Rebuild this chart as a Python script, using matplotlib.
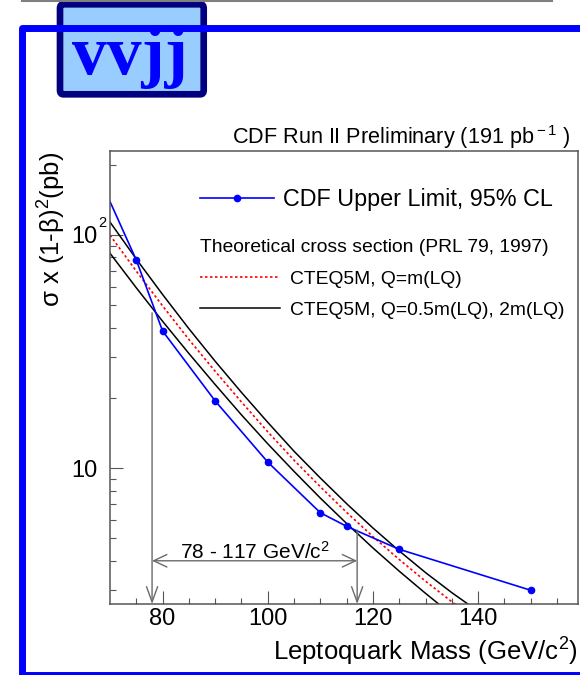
import numpy as np
import matplotlib
matplotlib.use('Agg')
import matplotlib.pyplot as plt
from matplotlib.lines import Line2D
from matplotlib.patches import FancyBboxPatch

plt.rcParams['font.family'] = ['Liberation Sans', 'DejaVu Sans']
plt.rcParams['mathtext.fontset'] = 'custom'
plt.rcParams['mathtext.rm'] = 'Liberation Sans'
plt.rcParams['mathtext.it'] = 'Liberation Sans:italic'
plt.rcParams['mathtext.bf'] = 'Liberation Sans:bold'

# --- data ---
# CDF 95% CL upper limit
lim_mass = [70, 75, 80, 90, 100, 110, 115, 125, 150]
lim_xsec = [139, 78, 38.7, 19.4, 10.6, 6.43, 5.62, 4.48, 2.99]

# theory (CTEQ5M), central and scale variations
th_mass = [70, 75, 80, 85, 90, 95, 100, 105, 110, 115, 120, 125, 130, 135, 140]
th_central = [99.7, 69.9, 49.6, 35.6, 26.0, 19.2, 14.3, 10.8, 8.31, 6.45, 5.08, 4.05, 3.27, 2.67, 2.21]
th_high = [113.5, 78.8, 55.5, 39.6, 28.7, 21.1, 15.7, 11.8, 9.06, 7.03, 5.53, 4.41, 3.56, 2.92, 2.43]
th_low = [83.4, 59.3, 42.6, 31.0, 22.8, 16.9, 12.7, 9.67, 7.43, 5.78, 4.54, 3.61, 2.90, 2.35, 1.93]

# excluded range
excl_mass = [78, 117]
excl_top = [46.3, 5.42]
arrow_y = 4.0

W, H = 580, 675
fig = plt.figure(figsize=(W / 100, H / 100), dpi=100)

def fx(px):
    return px / W

def fy(py):
    return 1 - py / H

ax = fig.add_axes([fx(110), fy(604), fx(578) - fx(110), fy(151) - fy(604)])

# theory curves
ax.plot(th_mass, th_high, color='black', lw=1.1)
ax.plot(th_mass, th_low, color='black', lw=1.1)
ax.plot(th_mass, th_central, color='#ff0000', lw=1.2, linestyle=(0, (1.5, 1.5)))
# limit
ax.plot(lim_mass, lim_xsec, color='#0000ff', lw=1.2, marker='o', ms=4.5,
        markevery=list(range(1, len(lim_mass))))

# exclusion arrows
gray = '#6a6a6a'
for m, top in zip(excl_mass, excl_top):
    ax.annotate('', xy=(m, 0), xycoords=('data', 'axes fraction'),
                xytext=(m, top), textcoords='data',
                arrowprops=dict(arrowstyle='->,head_length=1.1,head_width=0.4',
                                color=gray, lw=1.0, shrinkA=0, shrinkB=0))
ax.annotate('', xy=(excl_mass[0], arrow_y), xytext=(excl_mass[1], arrow_y),
            arrowprops=dict(arrowstyle='<->,head_length=0.95,head_width=0.45',
                            color=gray, lw=1.0, shrinkA=0, shrinkB=0))
ax.text(np.mean(excl_mass), 4.39, r'78 - 117 GeV/c$^{2}$', ha='center', va='center',
        fontsize=15)

ax.set_yscale('log')
ax.set_xlim(70, 159)
ax.set_ylim(2.61, 229)

ax.set_xticks([80, 100, 120, 140])
ax.set_xticks([m for m in range(75, 160, 5) if m % 20 != 0], minor=True)
ax.set_yticks([10, 100], labels=['10', '10'])
ax.set_yticks([3, 4, 5, 6, 7, 8, 9, 20, 30, 40, 50, 60, 70, 80, 90, 200], minor=True)
ax.yaxis.set_minor_formatter(plt.NullFormatter())
# exponent of the 10^2 label, hanging right of the "10" like ROOT does
ax.annotate('2', xy=(0, 100), xycoords=ax.get_yaxis_transform(),
            xytext=(-5.5, 8.5), textcoords='offset points', ha='center', va='center',
            fontsize=10.5)

axcol = '#555555'
for s in ax.spines.values():
    s.set_color(axcol)
    s.set_linewidth(1.1)
ax.tick_params(which='both', direction='in', color=axcol, width=0.8, labelsize=17)
ax.tick_params(which='major', length=9.5)
ax.tick_params(which='minor', length=4.5)
ax.tick_params(axis='x', pad=3)
ax.tick_params(axis='y', pad=9)

ax.set_xlabel(r'Leptoquark Mass (GeV/c$^{2}$)', fontsize=18.5, loc='right')
ax.xaxis.set_label_coords(1.0, -0.07)
ax.text((52 - 110) / 468, (604 - 152) / 453, r'σ x (1-β)$^{2}$(pb)', transform=ax.transAxes,
        rotation=90, ha='center', va='top', fontsize=18.5)

ax.text(0.983, 1.031, r'CDF Run II Preliminary (191 pb$^{\rm -1}$ )', transform=ax.transAxes,
        ha='right', va='center', fontsize=15.6)

# legends
h_lim = Line2D([], [], color='#0000ff', lw=1.2, marker='o', ms=4.5)
leg1 = ax.legend([h_lim], ['CDF Upper Limit, 95% CL'], loc='center left',
                 bbox_to_anchor=(0.1923, 0.892), frameon=False, fontsize=16.8,
                 handlelength=3.17, handletextpad=0.39, borderpad=0, borderaxespad=0,
                 numpoints=1)
ax.add_artist(leg1)
h_c = Line2D([], [], color='#ff0000', lw=1.2, linestyle=(0, (1.5, 1.5)))
h_b = Line2D([], [], color='black', lw=1.1)
leg2 = ax.legend([h_c, h_b], ['CTEQ5M, Q=m(LQ)', 'CTEQ5M, Q=0.5m(LQ), 2m(LQ)'],
                 title='Theoretical cross section (PRL 79, 1997)', title_fontsize=13.9,
                 alignment='left', loc='center left', bbox_to_anchor=(0.1923, 0.7174),
                 frameon=False, fontsize=13.9, handlelength=4.15, handletextpad=0.52,
                 labelspacing=0.7, borderpad=0, borderaxespad=0)

# page decorations
fig.add_artist(Line2D([fx(22), fx(552)], [fy(0.8), fy(0.8)], color='#808080', lw=1.5,
                      transform=fig.transFigure))
fig.add_artist(Line2D([fx(590), fx(21.7), fx(21.7), fx(590)],
                      [fy(27.5), fy(27.5), fy(675), fy(675)], color='#0000ff', lw=5,
                      solid_joinstyle='round', transform=fig.transFigure))
fig.add_artist(FancyBboxPatch((fx(60), fy(94.3)), fx(203.7) - fx(60), fy(4.3) - fy(94.3),
                              boxstyle='round,pad=0,rounding_size=0.006',
                              fc='#99ccff', ec='#000080', lw=4.8, transform=fig.transFigure))
fig.text(fx(130), fy(74), 'vvjj', ha='center', va='baseline', fontsize=50,
         family='Liberation Serif', fontweight='bold', color='#0000ff')

fig.savefig('out.png', dpi=100)
